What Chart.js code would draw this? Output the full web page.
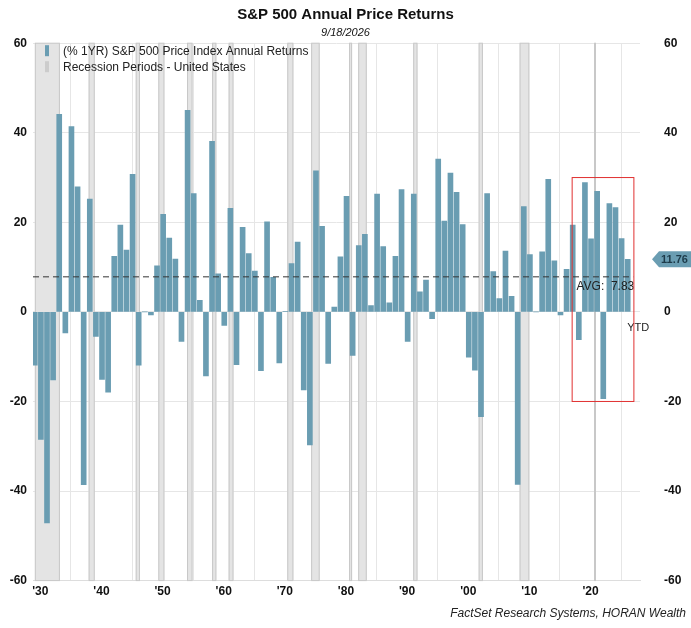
<!DOCTYPE html>
<html><head><meta charset="utf-8">
<script src="https://cdn.jsdelivr.net/npm/chart.js@4/dist/chart.umd.min.js"></script>
<style>html,body{margin:0;padding:0;background:#fff}#w{position:relative;width:691px;height:628px}</style>
</head><body><div id="w"><canvas id="c" width="691" height="628"></canvas></div>
<script>
const years = [];
for (let y = 1929; y <= 2026; y++) years.push(y);
const returns = [-11.9,-28.5,-47.1,-15.2,44.1,-4.7,41.4,27.9,-38.6,25.2,-5.5,-15.1,-17.9,12.4,19.4,13.8,30.7,-11.9,0,-0.7,10.3,21.8,16.5,11.8,-6.6,45.0,26.4,2.6,-14.3,38.1,8.5,-3.0,23.1,-11.8,18.9,13.0,9.1,-13.1,20.1,7.7,-11.4,0.1,10.8,15.6,-17.4,-29.7,31.5,19.1,-11.5,1.1,12.3,25.8,-9.7,14.8,17.3,1.4,26.3,14.6,2.0,12.4,27.3,-6.6,26.3,4.5,7.1,-1.5,34.1,20.3,31.0,26.7,19.5,-10.1,-13.0,-23.4,26.4,9.0,3.0,13.6,3.5,-38.5,23.5,12.8,0,13.4,29.6,11.4,-0.7,9.5,19.4,-6.2,28.9,16.3,26.9,-19.4,24.2,23.3,16.4,11.76];
const recStart = [1928.6,1937.4,1945.1,1948.8,1953.5,1957.6,1960.3,1969.9,1973.8,1980.0,1981.5,1990.5,2001.2,2007.9,2020.1];
const recEnd   = [1932.7,1938.4,1945.8,1949.8,1954.4,1958.3,1961.1,1970.9,1975.2,1980.5,1982.9,1991.2,2001.9,2009.5,2020.4];
const xTicks = [1929.5,1939.5,1949.5,1959.5,1969.5,1979.5,1989.5,1999.5,2009.5,2019.5];
const xTickLabels = ["'30","'40","'50","'60","'70","'80","'90","'00","'10","'20"];
const avgValue = 7.83;
const lastValue = 11.76;
const boxRange = {x0:2016.5, x1:2026.6, y0:-20, y1:30};

const barColor = '#6a9db2';
const overlay = {
  id:'overlay',
  beforeDatasetsDraw(ch){
    const {ctx, chartArea:a, scales:{x,y}} = ch;
    ctx.save();
    recStart.forEach((s,i)=>{
      const x0 = x.getPixelForValue(s), x1 = x.getPixelForValue(recEnd[i]);
      ctx.fillStyle = (s===2020.1) ? '#c4c4c4' : '#e4e4e4';
      ctx.fillRect(x0, a.top, x1-x0, a.bottom-a.top);
      ctx.strokeStyle = '#c8c8c8'; ctx.lineWidth = 1;
      ctx.strokeRect(x0+0.5, a.top, x1-x0-1, a.bottom-a.top);
    });
    ctx.restore();
  },
  afterDatasetsDraw(ch){
    const {ctx, chartArea:a, scales:{x,y}} = ch;
    ctx.save();
    const ay = y.getPixelForValue(avgValue);
    ctx.strokeStyle = '#333'; ctx.setLineDash([6,4]); ctx.lineWidth = 1;
    ctx.beginPath(); ctx.moveTo(a.left, ay); ctx.lineTo(x.getPixelForValue(2026.5), ay); ctx.stroke();
    ctx.setLineDash([]);
    ctx.fillStyle = '#222'; ctx.font = '12px Arial, "Liberation Sans"'; ctx.textBaseline='middle';
    ctx.fillText('AVG:  7.83', x.getPixelForValue(2017.2), ay+10);
    ctx.font = '11px Arial, "Liberation Sans"';
    ctx.fillText('YTD', x.getPixelForValue(2025.5), y.getPixelForValue(-3.5));
    ctx.strokeStyle = '#e03030'; ctx.lineWidth = 1;
    const bx0=x.getPixelForValue(boxRange.x0), bx1=x.getPixelForValue(boxRange.x1);
    const by0=y.getPixelForValue(boxRange.y1), by1=y.getPixelForValue(boxRange.y0);
    ctx.strokeRect(bx0, by0, bx1-bx0, by1-by0);
    const ly = y.getPixelForValue(lastValue), lx = a.right + 12;
    ctx.fillStyle = barColor;
    ctx.beginPath(); ctx.moveTo(lx, ly); ctx.lineTo(lx+7, ly-8); ctx.lineTo(lx+40, ly-8); ctx.lineTo(lx+40, ly+8); ctx.lineTo(lx+7, ly+8); ctx.closePath(); ctx.fill();
    ctx.fillStyle = '#1d3b4a'; ctx.font = 'bold 11px Arial, "Liberation Sans"';
    ctx.fillText(lastValue.toFixed(2), lx+9, ly+1);
    ctx.restore();
  }
};

new Chart(document.getElementById('c'), {
  type:'bar',
  data:{datasets:[
    {label:'(% 1YR) S&P 500 Price Index Annual Returns', data: years.map((yr,i)=>({x:yr,y:returns[i]})), backgroundColor:barColor, barThickness:5, yAxisID:'y'},
    {label:'Recession Periods - United States', data:[], backgroundColor:'#cccccc', yAxisID:'y'}
  ]},
  options:{
    responsive:false, animation:false,
    layout:{padding:{left:0,right:0,top:0,bottom:25}},
    plugins:{
      title:{display:true,text:'S&P 500 Annual Price Returns',font:{size:15,weight:'bold',family:'Arial, "Liberation Sans"'},color:'#111',padding:{top:6,bottom:2}},
      subtitle:{display:true,text:'9/18/2026',font:{size:11,style:'italic',family:'Arial, "Liberation Sans"'},color:'#111',padding:{bottom:4}},
      legend:{display:false},
      tooltip:{enabled:false}
    },
    scales:{
      x:{type:'linear',min:1928.3,max:2027.6,offset:false,
        afterBuildTicks(s){s.ticks = xTicks.map(v=>({value:v}));},
        ticks:{callback:(v,i)=>xTickLabels[i],font:{size:12,weight:'bold',family:'Arial, "Liberation Sans"'},color:'#111',maxRotation:0,autoSkip:false,padding:4},
        grid:{color:'#e6e6e6',drawTicks:false},border:{color:'#ddd'}},
      y:{min:-60,max:60,position:'left',
        ticks:{stepSize:20,font:{size:12,weight:'bold',family:'Arial, "Liberation Sans"'},color:'#111',padding:6},
        grid:{color:'#e6e6e6',drawTicks:false},border:{display:false},afterFit(s){s.width=33;}},
      y2:{min:-60,max:60,position:'right',
        ticks:{stepSize:20,font:{size:12,weight:'bold',family:'Arial, "Liberation Sans"'},color:'#111',padding:16},
        grid:{display:false},border:{display:false},afterFit(s){s.width=51;}}
    }
  },
  plugins:[overlay,{
    id:'extras',
    afterDraw(ch){
      const ctx=ch.ctx, a=ch.chartArea; ctx.save();
      ctx.font='12px Arial, "Liberation Sans"'; ctx.fillStyle='#222'; ctx.textBaseline='middle';
      ctx.fillStyle=barColor; ctx.fillRect(a.left+12, a.top+2, 4, 11);
      ctx.fillStyle='#cccccc'; ctx.fillRect(a.left+12, a.top+18, 4, 11);
      ctx.fillStyle='#222';
      ctx.fillText('(% 1YR) S&P 500 Price Index Annual Returns', a.left+30, a.top+8);
      ctx.fillText('Recession Periods - United States', a.left+30, a.top+24);
      ctx.font='italic 12px Arial, "Liberation Sans"'; ctx.textAlign='right';
      ctx.fillText('FactSet Research Systems, HORAN Wealth', 686, 614);
      ctx.restore();
    }
  }]
});
</script></body></html>
